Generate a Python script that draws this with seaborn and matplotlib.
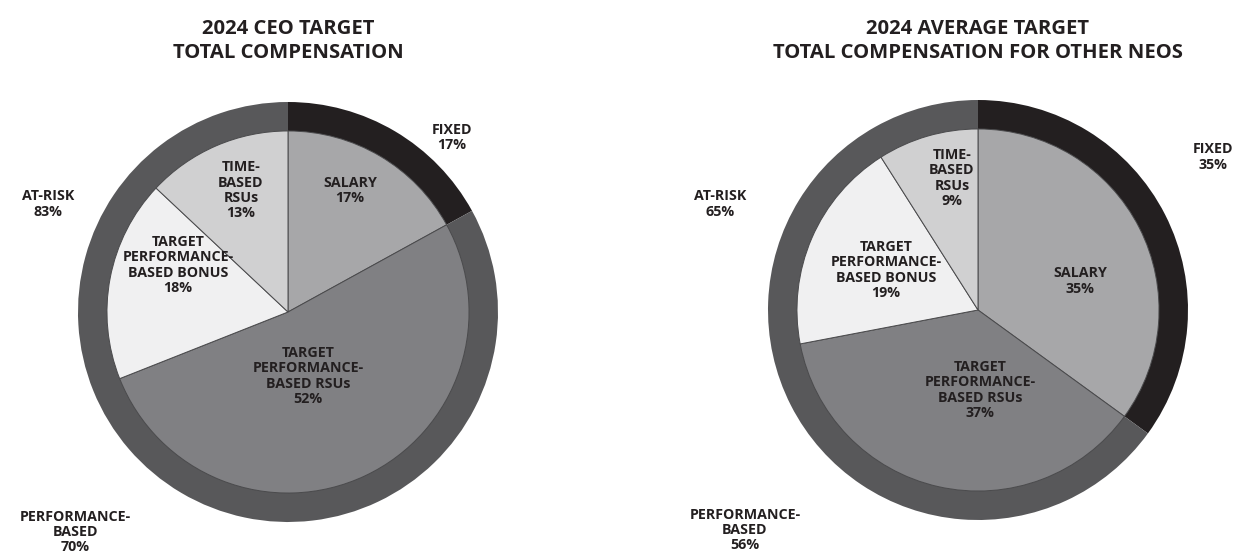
import matplotlib
matplotlib.use("Agg")
import matplotlib.pyplot as plt
import seaborn as sns

# data
titles = ["2024 CEO TARGET\nTOTAL COMPENSATION",
          "2024 AVERAGE TARGET\nTOTAL COMPENSATION FOR OTHER NEOS"]
inner_names = ["SALARY", "TARGET\nPERFORMANCE-\nBASED RSUs",
               "TARGET\nPERFORMANCE-\nBASED BONUS", "TIME-\nBASED\nRSUs"]
ceo_inner = [17, 52, 18, 13]
neo_inner = [35, 37, 19, 9]
outer_names = ["FIXED", "AT-RISK"]
ceo_outer = [17, 83]
neo_outer = [35, 65]
perf_name = "PERFORMANCE-\nBASED"
ceo_perf = 70
neo_perf = 56

sns.set_theme(style="white")
plt.rcParams["font.family"] = ["Open Sans", "DejaVu Sans"]

inner_cols = ["#a7a7a9", "#808083", "#f0f0f1", "#d0d0d1"]
outer_cols = ["#231f20", "#58585a"]
txt = "#231f20"

W, H = 1233, 554
R = 210.0
fig = plt.figure(figsize=(W / 100, H / 100), dpi=100)

# pixel layout: (axes x0, x1, pie center x, center y)
layouts = [(0, 616, 288, 312), (617, 1233, 978, 310)]

# label positions in pie radius units
inner_pos = [
    [(0.295, 0.58), (0.095, -0.305), (-0.524, 0.224), (-0.224, 0.58)],
    [(0.486, 0.138), (0.01, -0.381), (-0.438, 0.19), (-0.124, 0.629)],
]
outer_pos = [
    [(0.78, 0.83), (-1.143, 0.514), (-1.014, -1.048)],
    [(1.119, 0.729), (-1.229, 0.505), (-1.11, -1.048)],
]

sets = [(ceo_inner, ceo_outer, ceo_perf), (neo_inner, neo_outer, neo_perf)]

for i, (x0, x1, cx, cy) in enumerate(layouts):
    inner, outer, perf = sets[i]
    ax = fig.add_axes([x0 / W, 0, (x1 - x0) / W, 1])
    ax.pie(outer, radius=1.0, startangle=90, counterclock=False,
           colors=outer_cols, wedgeprops=dict(width=0.14, linewidth=0))
    ax.pie(inner, radius=0.862, startangle=90, counterclock=False,
           colors=inner_cols,
           wedgeprops=dict(linewidth=0.7, edgecolor="#4a4a4c"))
    ax.set_xlim((x0 - cx) / R, (x1 - cx) / R)
    ax.set_ylim((cy - H) / R, cy / R)
    ax.set_aspect("auto")
    ax.axis("off")

    for name, val, (dx, dy) in zip(inner_names, inner, inner_pos[i]):
        ax.text(dx, dy, f"{name}\n{val}%", ha="center", va="center",
                fontsize=10.3, fontweight="bold", color=txt,
                linespacing=1.12)
    labels = [f"{outer_names[0]}\n{outer[0]}%",
              f"{outer_names[1]}\n{outer[1]}%",
              f"{perf_name}\n{perf}%"]
    for lab, (dx, dy) in zip(labels, outer_pos[i]):
        ax.text(dx, dy, lab, ha="center", va="center", fontsize=10.3,
                fontweight="bold", color=txt, linespacing=1.12,
                clip_on=False)

    tcx = cx / W
    fig.text(tcx, 1 - 41 / H, titles[i], ha="center", va="center",
             fontsize=14.6, fontweight="bold", color=txt, linespacing=1.2)

fig.savefig("out.png", dpi=100, facecolor="white")
